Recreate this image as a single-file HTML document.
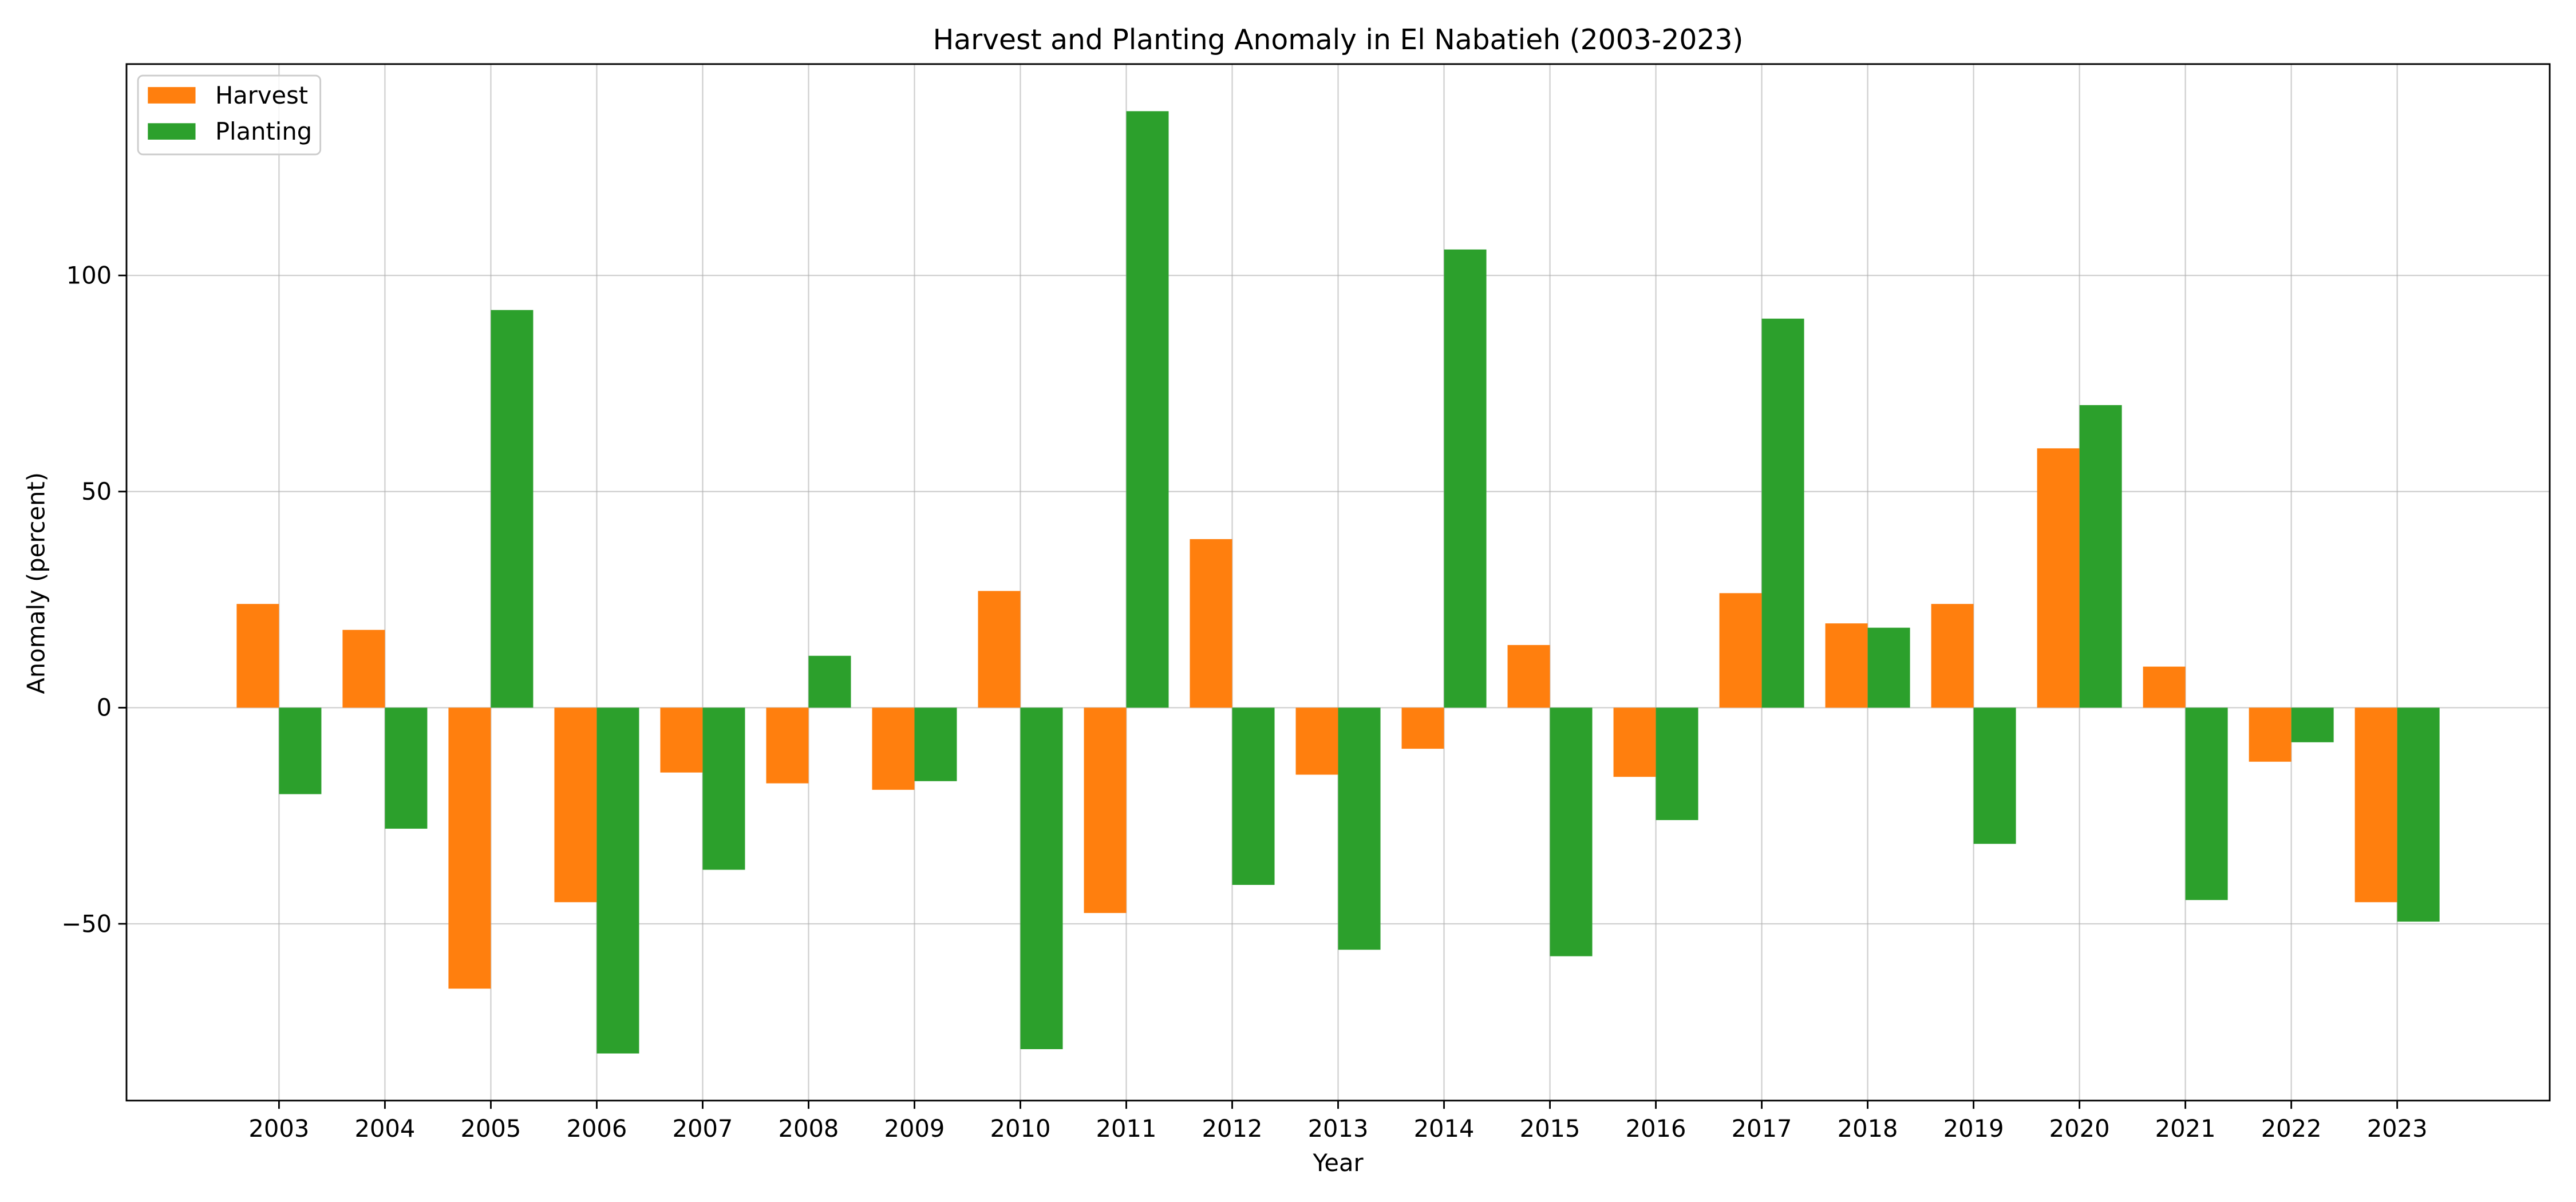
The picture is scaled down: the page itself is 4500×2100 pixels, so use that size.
<!DOCTYPE html>
<html><head><meta charset="utf-8"><style>html,body{margin:0;padding:0;background:#fff}svg{display:block}text{font-family:"DejaVu Sans","Liberation Sans",sans-serif;fill:#000}</style></head>
<body>
<svg id="chart" width="4500" height="2100" viewBox="0 0 1568 731.73" preserveAspectRatio="none" xmlns="http://www.w3.org/2000/svg">
<rect width="1568" height="731.73" fill="#fff"/>
<text x="814.5" y="30" font-size="17" text-anchor="middle">Harvest and Planting Anomaly in El Nabatieh (2003-2023)</text>
<g id="grid"></g><g id="bars"></g><g id="ticks"></g>
<rect x="77" y="39" width="1475" height="631" fill="none" stroke="#000" stroke-width="1"/>
<text x="814.5" y="713" font-size="14.5" text-anchor="middle">Year</text>
<text transform="translate(27,355) rotate(-90)" font-size="14.5" text-anchor="middle">Anomaly (percent)</text>
<g>
<rect x="84" y="46" width="111" height="48" rx="3" fill="#fff" fill-opacity="0.8" stroke="#ccc"/>
<rect x="90" y="53" width="29" height="10" fill="#ff7f0e"/>
<text x="131" y="63" font-size="14.5">Harvest</text>
<rect x="90" y="75" width="29" height="10" fill="#2ca02c"/>
<text x="131" y="85" font-size="14.5">Planting</text>
</g>
</svg>
<script>
const years = [2003,2004,2005,2006,2007,2008,2009,2010,2011,2012,2013,2014,2015,2016,2017,2018,2019,2020,2021,2022,2023];
const harvest = [24,18,-65,-45,-15,-17.5,-19,27,-47.5,39,-15.5,-9.5,14.5,-16,26.5,19.5,24,60,9.5,-12.5,-45];
const planting = [-20,-28,92,-80,-37.5,12,-17,-79,138,-41,-56,106,-57.5,-26,90,18.5,-31.5,70,-44.5,-8,-49.5];
const yTicks = [-50,0,50,100];
const yTickLabels = ["\u221250","0","50","100"];
const NS='http://www.w3.org/2000/svg';
const L=77,R=1552,T=39,B=670;
const allV=harvest.concat(planting,[0]);
const vmin=Math.min(...allV),vmax=Math.max(...allV),vr=vmax-vmin;
const y0=vmin-0.05*vr,y1=vmax+0.05*vr;
const n=years.length;
const x0=-0.4-0.05*(n-0.2),x1=n-1+0.4+0.05*(n-0.2);
const sx=i=>L+(i-x0)/(x1-x0)*(R-L);
const sy=v=>B-(v-y0)/(y1-y0)*(B-T);
function mk(tag,attrs,parent){const e=document.createElementNS(NS,tag);for(const k in attrs)e.setAttribute(k,attrs[k]);parent.appendChild(e);return e;}
const grid=document.getElementById('grid'),bars=document.getElementById('bars'),ticks=document.getElementById('ticks');
const bw=0.4*(R-L)/(x1-x0);
years.forEach((yr,i)=>{
  const x=sx(i);
  const g=mk('line',{x1:x,x2:x,y1:T,y2:B,stroke:'#b0b0b0','stroke-width':0.8,'stroke-opacity':0.6},grid);
  
  
  const tk=mk('line',{x1:x,x2:x,y1:B,y2:B+5,stroke:'#000','stroke-width':1},ticks);
  
  
  const t=mk('text',{x:x,y:B+22,'font-size':14.5,'text-anchor':'middle'},ticks);
  t.textContent=yr;
  
  
  const h=harvest[i];
  const hb=mk('rect',{x:x-bw,y:Math.min(sy(h),sy(0)),width:bw,height:Math.abs(sy(h)-sy(0)),fill:'#ff7f0e'},bars);
  
  
  const p=planting[i];
  const pb=mk('rect',{x:x,y:Math.min(sy(p),sy(0)),width:bw,height:Math.abs(sy(p)-sy(0)),fill:'#2ca02c'},bars);
  
  
});
yTicks.forEach((v,i)=>{
  const y=sy(v);
  const g=mk('line',{x1:L,x2:R,y1:y,y2:y,stroke:'#b0b0b0','stroke-width':0.8,'stroke-opacity':0.6},grid);
  
  
  const tk=mk('line',{x1:L-5,x2:L,y1:y,y2:y,stroke:'#000','stroke-width':1},ticks);
  
  
  const t=mk('text',{x:L-9,y:y+5,'font-size':14.5,'text-anchor':'end'},ticks);
  t.textContent=yTickLabels[i];
  
  
});
</script>
</body></html>
